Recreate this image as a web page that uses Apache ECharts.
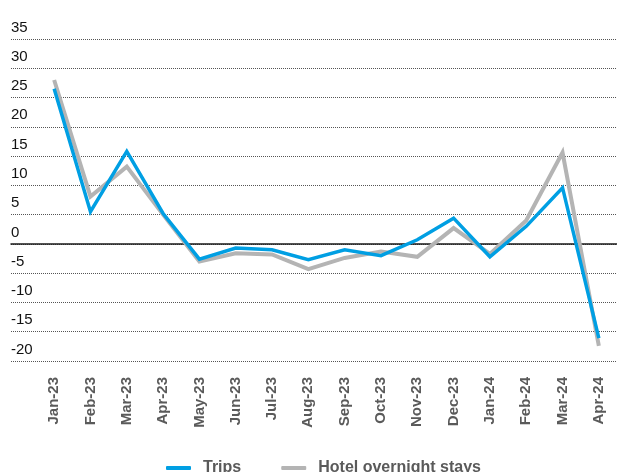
<!DOCTYPE html>
<html>
<head>
<meta charset="utf-8">
<script src="https://cdn.jsdelivr.net/npm/echarts@6/dist/echarts.min.js"></script>
<style>
  html, body { margin: 0; padding: 0; background: #ffffff; }
  #chart { width: 617px; height: 472px; }
</style>
</head>
<body>
<div id="chart"></div>
<script>
// Monthly change, % year on year
const months = ['Jan-23', 'Feb-23', 'Mar-23', 'Apr-23', 'May-23', 'Jun-23', 'Jul-23', 'Aug-23',
                'Sep-23', 'Oct-23', 'Nov-23', 'Dec-23', 'Jan-24', 'Feb-24', 'Mar-24', 'Apr-24'];
const trips = [26.5, 5.5, 15.8, 5.2, -2.6, -0.7, -1.0, -2.7, -1.0, -2.0, 0.7, 4.4, -2.2, 3.0, 9.6, -16.1];
const hotelStays = [28.0, 8.1, 13.2, 5.0, -3.0, -1.6, -1.8, -4.3, -2.4, -1.3, -2.2, 2.7, -1.7, 4.0, 15.6, -17.4];
const yMin = -20, yMax = 35, yStep = 5;

const chart = echarts.init(document.getElementById('chart'), null, { renderer: 'canvas' });
const TOP = 39, BOTTOM = 111;
const FONT = 'Liberation Sans, Arial, sans-serif';

chart.setOption({
  animation: false,
  backgroundColor: '#ffffff',
  textStyle: { fontFamily: FONT },
  grid: [
    // full-width grid carrying the value labels, dotted gridlines and zero line
    { left: 11, right: 0, top: TOP, bottom: BOTTOM },
    // plotting grid for the monthly series
    { left: 36, right: 0, top: TOP, bottom: BOTTOM }
  ],
  xAxis: [
    {
      gridIndex: 0, type: 'value', min: 0, max: 1,
      axisLine: { show: true, onZero: true, lineStyle: { color: '#1a1a1a', width: 1.5 } },
      axisTick: { show: false }, axisLabel: { show: false }, splitLine: { show: false }
    },
    {
      gridIndex: 1, type: 'category', data: months, boundaryGap: true,
      axisLine: { show: false }, axisTick: { show: false },
      axisLabel: {
        rotate: 90, margin: 16, color: '#5a5a5a', fontSize: 15, fontWeight: 'bold',
        fontFamily: FONT
      }
    }
  ],
  yAxis: [
    {
      gridIndex: 0, type: 'value', min: yMin, max: yMax, interval: yStep,
      axisLine: { show: false }, axisTick: { show: false },
      axisLabel: {
        inside: true, margin: 0, align: 'left', verticalAlign: 'bottom',
        padding: [0, 0, 4, 0], color: '#111111', fontSize: 15, fontFamily: FONT
      },
      splitLine: { show: true, lineStyle: { color: '#555555', width: 1, type: [1, 1] } }
    },
    {
      gridIndex: 1, type: 'value', min: yMin, max: yMax, interval: yStep,
      show: false, splitLine: { show: false }
    }
  ],
  legend: {
    left: 161, top: 455, itemWidth: 25, itemHeight: 4, itemGap: 40,
    icon: 'roundRect',
    textStyle: {
      color: '#5a5a5a', fontSize: 16, fontWeight: 'bold', padding: [0, 0, 0, 7],
      fontFamily: FONT
    },
    data: ['Trips', 'Hotel overnight stays']
  },
  series: [
    {
      name: 'Hotel overnight stays', type: 'line', xAxisIndex: 1, yAxisIndex: 1,
      data: hotelStays, symbol: 'none', z: 2,
      itemStyle: { color: '#b4b4b4' },
      lineStyle: { color: '#b4b4b4', width: 4, join: 'miter' }
    },
    {
      name: 'Trips', type: 'line', xAxisIndex: 1, yAxisIndex: 1,
      data: trips, symbol: 'none', z: 3,
      itemStyle: { color: '#009fe3' },
      lineStyle: { color: '#009fe3', width: 3.5, join: 'miter' }
    }
  ]
});
</script>
</body>
</html>
